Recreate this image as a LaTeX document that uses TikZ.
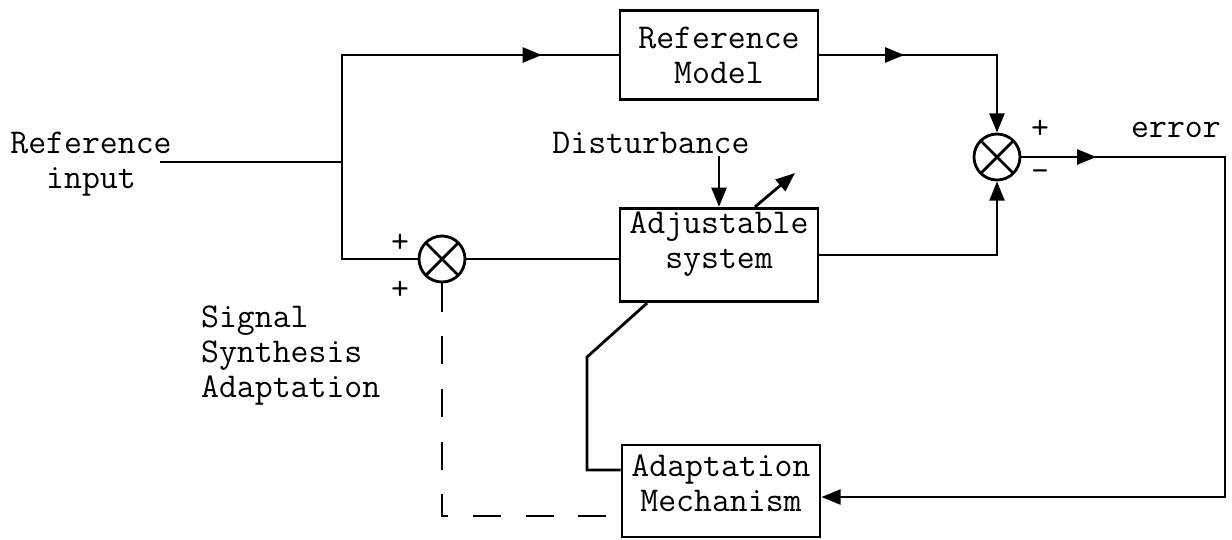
\documentclass[tikz,border=0pt]{standalone}
\usetikzlibrary{arrows.meta, calc, decorations.markings}

\newcommand{\diagfont}{\ttfamily\fontsize{19.8}{19.8}\selectfont}

\tikzset{
  block/.style={draw, rectangle, minimum width=3.96cm, minimum height=1.78cm, align=center, font=\diagfont, inner sep=2pt},
  summer/.style={draw, circle, minimum size=0.92cm, inner sep=0pt,
    path picture={\draw (path picture bounding box.north west) -- (path picture bounding box.south east)
                        (path picture bounding box.north east) -- (path picture bounding box.south west);}},
  txt/.style={font=\diagfont, inner sep=1pt},
  sign/.style={font=\diagfont, inner sep=0pt},
  arr/.style={-{Triangle[length=11pt,width=8.5pt]}},
  midarr/.style={decoration={markings, mark=at position #1 with {\arrow{Triangle[length=11pt,width=8.5pt]}}}, postaction={decorate}}
}

\begin{document}
\begin{tikzpicture}[x=0.02cm, y=-0.02cm, line width=1.6pt]
\useasboundingbox (0,0) rectangle (1232,539);

    % blocks
    \node[block] (rm) at (719,55) {Reference\\Model};
    \node[block, minimum height=1.86cm, text depth=17pt] (as) at (719,255) {Adjustable\\system};
    \node[block, minimum height=1.84cm, text depth=9pt] (am) at (721,491) {Adaptation\\Mechanism};

    % summing points
    \node[summer] (s1) at (442,259) {};
    \node[summer] (s2) at (997,157) {};

    % labels
    \node[txt, align=center] (rinput) at (91,164) {Reference\\input};
    \node[txt, anchor=base] (dist) at (651,153) {Disturbance};
    \node[txt, anchor=base] (err) at (1176,137) {error};
    \node[txt, align=left, anchor=north west] (ssa) at (198,303) {Signal\\Synthesis\\Adaptation};

    \node[sign] (p1) at (400,243) {+};
    \node[sign] (p2) at (400,290) {+};
    \node[sign] (p3) at (1040,129) {+};
    \node[sign] (m1) at (1040,176) {-};

    \coordinate (inp) at (160,162);
    \coordinate (jn) at (342,162);
    \coordinate (ec) at (1225,157);
    \coordinate (kn) at (587,357);
    \coordinate (adj) at (795,173);

    % forward paths
    \draw (inp) -- (jn);
    \draw[midarr=6.14cm] (jn) |- (rm.west);
    \draw (jn) |- (s1.west);
    \draw (s1.east) -- (s1.east -| as.west);
    \draw[arr, midarr=1.7cm] (rm.east) -| (s2.north);
    \draw[arr] (as.east) -| (s2.south);
    \draw[arr, midarr=1.5cm] (s2.east) -- (ec) |- ([yshift=-0.12cm]am.east);

    % disturbance and adjustment
    \draw[arr] (dist.south -| as.north) -- (as.north);
    \draw[arr] ([xshift=0.72cm]as.north) -- (adj);

    % adaptation loops
    \draw ([xshift=-1.44cm]as.south) -- (kn) |- ([yshift=0.42cm]am.west);
    \draw[dash pattern=on 16pt off 14pt] (s1.south) |- ([yshift=-0.5cm]am.west);

\end{tikzpicture}
\end{document}
